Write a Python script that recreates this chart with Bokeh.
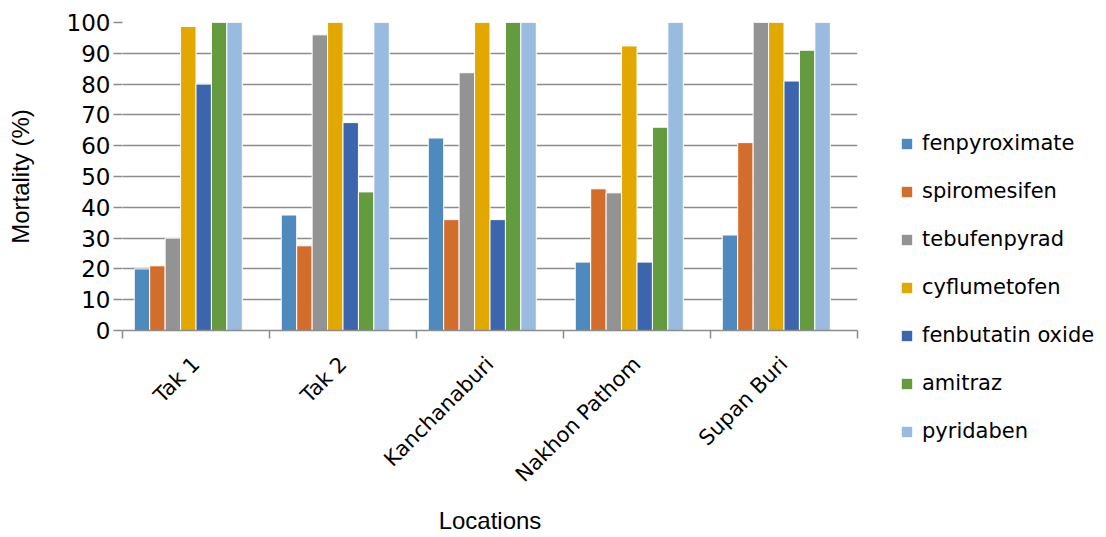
from bokeh.plotting import figure
from bokeh.models import Range1d, FixedTicker, Legend, LegendItem
from bokeh.layouts import row
from bokeh.embed import file_html
from bokeh.resources import INLINE

locations = ["Tak 1", "Tak 2", "Kanchanaburi", "Nakhon Pathom", "Supan Buri"]
series = ["fenpyroximate", "spiromesifen", "tebufenpyrad", "cyflumetofen",
          "fenbutatin oxide", "amitraz", "pyridaben"]
fenpyroximate = [20, 37.5, 62.5, 22.2, 31]
spiromesifen = [21, 27.5, 36, 46, 61]
tebufenpyrad = [30, 96, 83.7, 44.7, 100]
cyflumetofen = [98.7, 100, 100, 92.4, 100]
fenbutatin_oxide = [80, 67.5, 36, 22.2, 81]
amitraz = [100, 45, 100, 66, 91]
pyridaben = [100, 100, 100, 100, 100]
values = [fenpyroximate, spiromesifen, tebufenpyrad, cyflumetofen,
          fenbutatin_oxide, amitraz, pyridaben]
colors = ["#4F8ABE", "#D36D2C", "#939393", "#E2A800", "#3D65AD", "#639B3E", "#99BBE0"]
y_ticks = list(range(0, 101, 10))

MAIN_W, H = 870, 537
LEG_W = 1106 - MAIN_W

p = figure(width=MAIN_W, height=H, output_backend="svg", toolbar_location=None,
           x_range=Range1d(0, 5), y_range=Range1d(0, 100),
           min_border_left=122, min_border_right=13, min_border_top=22,
           min_border_bottom=207)
p.frame_align = False
p.outline_line_color = None
p.xgrid.grid_line_color = None
p.ygrid.grid_line_color = "#8C8C8C"
p.ygrid.grid_line_width = 1.5

slots = 8
w = 0.105
lead = (1 - slots * w) / 2
for j, (name, vals, col) in enumerate(zip(series, values, colors)):
    xs = [i + lead + w * (j + 0.5) for i in range(len(locations))]
    p.vbar(x=xs, top=vals, width=w, fill_color=col, line_color="white",
           line_width=1)

# x axis
xa = p.xaxis[0]
xa.ticker = FixedTicker(ticks=[i + 0.5 for i in range(len(locations))],
                        minor_ticks=list(range(len(locations) + 1)))
xa.major_label_overrides = {i + 0.5: loc for i, loc in enumerate(locations)}
xa.major_tick_line_color = None
xa.minor_tick_line_color = "#8C8C8C"
xa.minor_tick_line_width = 1.5
xa.minor_tick_out = 8
xa.minor_tick_in = 0
xa.axis_line_color = "#8C8C8C"
xa.axis_line_width = 1.5
xa.major_label_orientation = 0.785398
xa.major_label_standoff = 22
xa.major_label_text_font = "DejaVu Sans"
xa.major_label_text_font_size = "21px"
xa.major_label_text_color = "black"
xa.axis_label = "Locations"
xa.axis_label_text_font = "Liberation Sans"
xa.axis_label_text_font_size = "24px"
xa.axis_label_text_font_style = "normal"
xa.axis_label_text_color = "black"
xa.axis_label_standoff = 9

# y axis
ya = p.yaxis[0]
ya.ticker = FixedTicker(ticks=y_ticks)
ya.axis_line_color = None
ya.major_tick_line_color = "#8C8C8C"
ya.major_tick_line_width = 1.5
ya.major_tick_out = 9
ya.major_tick_in = 0
ya.minor_tick_line_color = None
ya.major_label_standoff = 3
ya.major_label_text_font = "DejaVu Sans"
ya.major_label_text_font_size = "23px"
ya.major_label_text_color = "black"
ya.axis_label = "Mortality (%)"
ya.axis_label_text_font = "Liberation Sans"
ya.axis_label_text_font_size = "24px"
ya.axis_label_text_font_style = "normal"
ya.axis_label_text_color = "black"
ya.axis_label_standoff = 30

# legend panel
q = figure(width=LEG_W, height=H, output_backend="svg", toolbar_location=None,
           x_range=Range1d(0, 1), y_range=Range1d(0, 1),
           min_border_left=30, min_border_top=131, min_border_right=0,
           min_border_bottom=0)
q.frame_align = False
q.axis.visible = False
q.grid.visible = False
q.outline_line_color = None
items = []
for name, col in zip(series, colors):
    r = q.vbar(x=[5], top=[1], width=0.1, fill_color=col, line_color=None)
    items.append(LegendItem(label=name, renderers=[r]))

legend = Legend(items=items, location="top_left", orientation="vertical")
legend.padding = 0
legend.margin = 0
legend.border_line_color = None
legend.background_fill_alpha = 0
legend.glyph_width = 13
legend.glyph_height = 13
legend.label_height = 20
legend.spacing = 24
legend.label_standoff = 9
legend.label_text_font = "DejaVu Sans"
legend.label_text_font_size = "21px"
legend.label_text_color = "black"
q.add_layout(legend, "center")

layout = row(p, q)
open("out.html", "w").write(file_html(layout, INLINE))
